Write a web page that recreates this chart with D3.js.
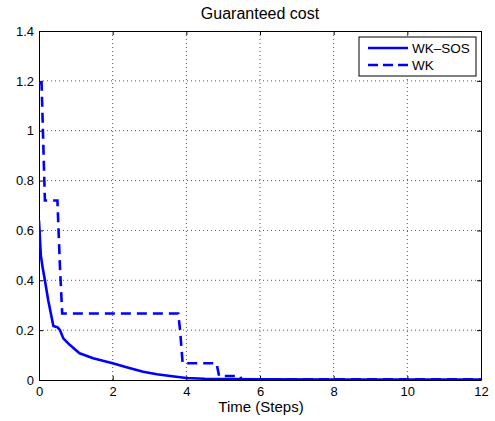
<!DOCTYPE html>
<html>
<head>
<meta charset="utf-8">
<script src="https://cdn.jsdelivr.net/npm/d3@7"></script>
<style>
  body { margin: 0; background: #fff; }
  svg { display: block; }
  text { font-family: "Liberation Sans", Arial, Helvetica, sans-serif; }
</style>
</head>
<body>
<div id="chart"></div>
<script>
// Chart size
var svgWidth = 495;
var svgHeight = 421;
var margin = { top: 31, right: 14, bottom: 41, left: 39 };
var width = svgWidth - margin.left - margin.right;
var height = svgHeight - margin.top - margin.bottom;

// data
var xTicks = [0, 2, 4, 6, 8, 10, 12];
var yTicks = [0, 0.2, 0.4, 0.6, 0.8, 1, 1.2, 1.4];
var seriesNames = ["WK\u2013SOS", "WK"];

var sosTime = [0, 0.05, 0.1, 0.16, 0.25, 0.39, 0.5, 0.57, 0.66, 0.84, 1.1, 1.47, 2.0, 2.4, 2.83, 3.2, 3.56, 4.0, 4.5, 5.0, 6.0, 8.0, 10.0, 12.0];
var sosCost = [0.64, 0.5, 0.45, 0.40, 0.32, 0.217, 0.212, 0.20, 0.167, 0.14, 0.107, 0.087, 0.067, 0.05, 0.033, 0.023, 0.016, 0.008, 0.005, 0.004, 0.003, 0.002, 0.002, 0.002];

var wkTime = [0, 0.07, 0.16, 0.5, 0.57, 0.63, 3.78, 3.83, 3.9, 4.82, 4.89, 5.45, 5.5, 12];
var wkCost = [1.19, 1.19, 0.72, 0.72, 0.45, 0.267, 0.267, 0.2, 0.067, 0.067, 0.016, 0.016, 0.003, 0.003];

var svg = d3.select('#chart')
  .append('svg')
  .attr('width', svgWidth)
  .attr('height', svgHeight);

var g = svg.append('g')
  .attr('transform', 'translate(' + margin.left + ',' + margin.top + ')');

var x = d3.scaleLinear().domain([0, 12]).range([0, width]);
var y = d3.scaleLinear().domain([0, 1.4]).range([height, 0]);

// dotted grid
g.append('g').selectAll('line.vgrid')
  .data(xTicks.slice(1, -1))
  .enter().append('line')
  .attr('x1', d => x(d)).attr('x2', d => x(d))
  .attr('y1', 0).attr('y2', height)
  .attr('stroke', '#555').attr('stroke-width', 1)
  .attr('stroke-dasharray', '1,3');

g.append('g').selectAll('line.hgrid')
  .data(yTicks.slice(1, -1))
  .enter().append('line')
  .attr('y1', d => y(d)).attr('y2', d => y(d))
  .attr('x1', 0).attr('x2', width)
  .attr('stroke', '#555').attr('stroke-width', 1)
  .attr('stroke-dasharray', '1,3');

// axes, MATLAB style: inner ticks on all sides
function styleAxis(sel) {
  sel.select('.domain').attr('stroke', '#000').attr('stroke-width', 1);
  sel.selectAll('.tick line').attr('stroke', '#000');
  sel.selectAll('.tick text').attr('fill', '#000').style('font-size', '13px');
}

g.append('g')
  .attr('transform', 'translate(0,' + height + ')')
  .call(d3.axisBottom(x).tickValues(xTicks).tickSize(-4).tickSizeOuter(0).tickPadding(7).tickFormat(d3.format('d')))
  .call(styleAxis);

g.append('g')
  .call(d3.axisLeft(y).tickValues(yTicks).tickSize(-4).tickSizeOuter(0).tickPadding(5).tickFormat(d => d === 0 || d === 1 ? d3.format('d')(d) : d3.format('.1f')(d)))
  .call(styleAxis);

g.append('g')
  .call(d3.axisTop(x).tickValues(xTicks).tickSize(-4).tickSizeOuter(0).tickFormat(''))
  .call(styleAxis);

g.append('g')
  .attr('transform', 'translate(' + width + ',0)')
  .call(d3.axisRight(y).tickValues(yTicks).tickSize(-4).tickSizeOuter(0).tickFormat(''))
  .call(styleAxis);

// lines
g.append('clipPath').attr('id', 'plotclip')
  .append('rect').attr('width', width).attr('height', height);

var line = d3.line()
  .x(d => x(d[0]))
  .y(d => y(d[1]));

var sosData = sosTime.map((t, i) => [t, sosCost[i]]);
var wkData = wkTime.map((t, i) => [t, wkCost[i]]);

g.append('path')
  .attr('clip-path', 'url(#plotclip)')
  .attr('d', line(sosData))
  .attr('fill', 'none')
  .attr('stroke', '#0000ff')
  .attr('stroke-width', 2.6)
  .attr('stroke-linejoin', 'round');

g.append('path')
  .attr('clip-path', 'url(#plotclip)')
  .attr('d', line(wkData))
  .attr('fill', 'none')
  .attr('stroke', '#0000ff')
  .attr('stroke-width', 2.6)
  .attr('stroke-dasharray', '10,6');

// title and label
svg.append('text')
  .attr('x', margin.left + width / 2)
  .attr('y', 19)
  .attr('text-anchor', 'middle')
  .style('font-size', '16px')
  .text('Guaranteed cost');

svg.append('text')
  .attr('x', margin.left + width / 2 + 1)
  .attr('y', 412)
  .attr('text-anchor', 'middle')
  .style('font-size', '15px')
  .text('Time (Steps)');

// legend
var legend = svg.append('g').attr('transform', 'translate(359,37)');
legend.append('rect')
  .attr('width', 117).attr('height', 39)
  .attr('fill', '#fff').attr('stroke', '#000').attr('stroke-width', 1);

seriesNames.forEach(function(name, i) {
  var ly = 11 + i * 17;
  legend.append('line')
    .attr('x1', 9).attr('x2', 49)
    .attr('y1', ly).attr('y2', ly)
    .attr('stroke', '#0000ff').attr('stroke-width', 2.6)
    .attr('stroke-dasharray', i === 1 ? '10,5' : null);
  legend.append('text')
    .attr('x', 53).attr('y', ly + 5)
    .style('font-size', '13.5px')
    .text(name);
});
</script>
</body>
</html>
